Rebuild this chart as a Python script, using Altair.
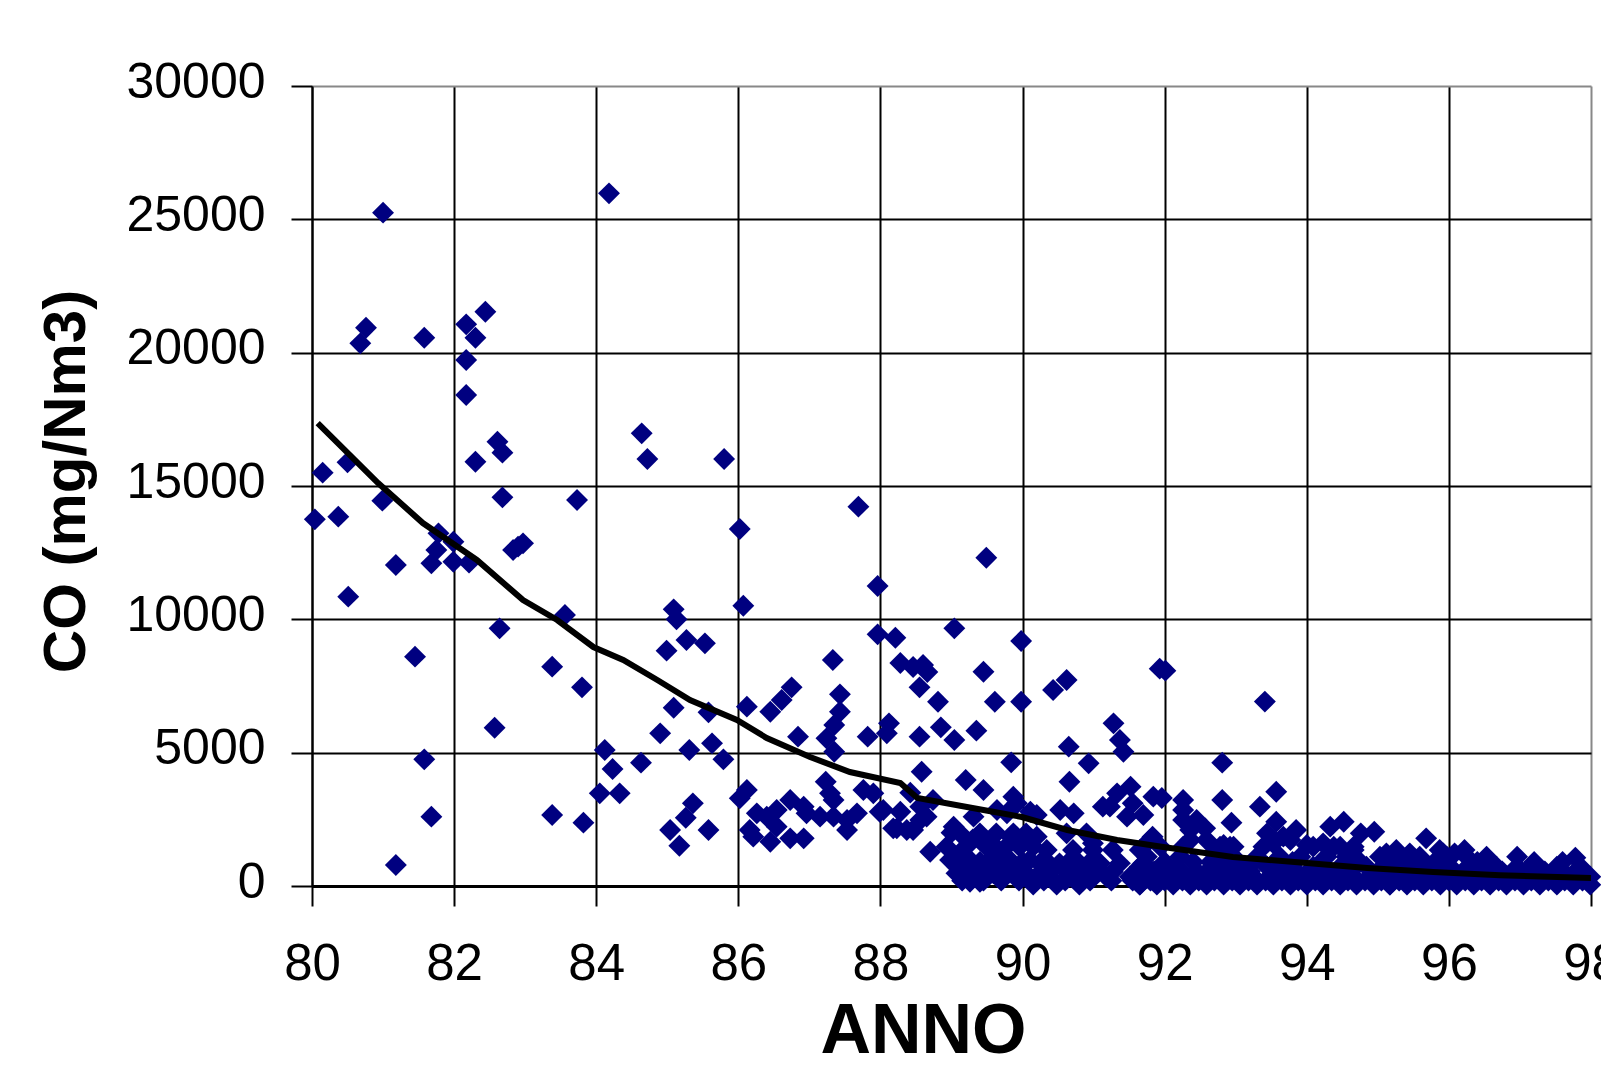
import altair as alt
import pandas as pd

# ---- scatter data: year (ANNO) and CO (mg/Nm3) ----
anno_early = [81.00, 84.18, 80.76, 80.68, 81.58, 82.44, 82.17, 82.30, 82.17, 82.17,
              84.64, 84.72, 85.80, 82.61, 82.68, 82.30, 80.50, 80.15, 80.99, 80.04,
              80.37, 82.68, 83.73, 86.02, 81.78, 81.99, 81.75, 81.68, 81.99, 82.21,
              81.18, 82.97, 82.83, 82.90, 80.51, 82.64, 83.56, 85.09, 85.13, 85.27,
              85.53, 86.07, 84.99, 81.45, 83.38, 83.80, 85.09, 85.58, 84.90, 82.57,
              84.12, 85.31, 85.63, 85.79, 81.58, 84.23, 84.63, 84.05, 84.33, 86.02,
              85.36, 85.26, 85.04, 85.58, 85.17, 81.68, 83.38, 83.82, 81.18]
co_early = [25250, 25975, 20937, 20350, 20562, 21537, 21062, 20562, 19725, 18412,
            16975, 16012, 16012, 16662, 16250, 15912, 15887, 15500, 14450, 13750,
            13850, 14575, 14475, 13387, 13225, 12912, 12600, 12100, 12162, 12125,
            12037, 12850, 12600, 12725, 10850, 9662, 10162, 10375, 10000, 9225,
            9100, 10512, 8825, 8600, 8225, 7450, 6687, 6512, 5725, 5937,
            5100, 5100, 5350, 4750, 4750, 4387, 4625, 3475, 3475, 3287,
            3100, 2562, 2100, 2100, 1512, 2600, 2662, 2375, 787]

anno_mid = [87.69, 89.49, 87.96, 87.96, 88.21, 89.04, 89.98, 87.33, 88.28, 88.46,
            88.60, 88.66, 89.45, 90.62, 90.43, 88.55, 86.75, 86.61, 86.45, 86.12,
            87.43, 87.43, 87.35, 87.24, 87.35, 86.84, 88.81, 89.61, 89.98, 88.12,
            88.09, 87.82, 88.55, 88.85, 89.04, 89.35, 91.28, 91.37, 91.42, 90.65,
            89.84, 90.93, 88.58, 89.20, 89.45, 90.66, 91.33, 91.52, 91.55, 91.23,
            91.47, 91.13, 86.12, 87.23, 87.29, 87.34, 87.76, 87.90, 88.42, 89.87,
            89.92, 86.26, 86.40, 86.54, 86.73, 86.92, 86.96, 86.16, 86.21, 86.54,
            86.45, 86.73, 86.92, 87.15, 87.34, 87.53, 87.67, 87.53, 87.99, 88.28,
            88.23, 88.37, 88.56, 88.65, 88.74, 89.03, 89.31, 88.70, 90.53, 90.72,
            90.20, 90.11, 88.04, 88.56, 88.18, 88.46, 89.64, 89.78, 89.87]
co_mid = [14225, 12312, 11250, 9437, 9312, 9662, 9187, 8475, 8362, 8212,
          8287, 8025, 8037, 7725, 7350, 7450, 7450, 6975, 6537, 6725,
          7187, 6537, 6037, 5537, 5037, 5600, 6912, 6912, 6912, 6100,
          5725, 5600, 5600, 5950, 5475, 5825, 6100, 5475, 5037, 5225,
          4637, 4600, 4287, 3975, 3600, 3912, 3475, 3725, 3100, 2975,
          2600, 2975, 3600, 3912, 3475, 3225, 3600, 3475, 3500, 3350,
          3100, 2725, 2600, 2850, 3225, 2975, 2725, 2100, 1850, 2225,
          1662, 1787, 1787, 2600, 2600, 2475, 2725, 2100, 2787, 2787,
          2162, 2100, 2975, 2600, 3225, 2225, 2600, 1287, 2850, 2725,
          2662, 2787, 2850, 2475, 2162, 2100, 2850, 2725, 2975]

anno_late = [91.93, 92.01, 93.41, 92.81, 91.84, 91.96, 92.26, 92.26, 92.81, 93.57,
             93.34, 91.70, 92.94, 92.26, 92.45, 92.57, 92.36, 93.57, 93.85, 93.44,
             93.67, 93.53, 93.77, 94.33, 94.52, 94.76, 94.95, 91.83, 92.36, 92.83,
             92.97, 92.73, 94.00, 94.23, 94.47, 94.66, 95.12, 95.26, 95.68, 97.78,
             95.87, 96.22, 96.08, 95.45, 95.92]
co_late = [8150, 8075, 6915, 4625, 3350, 3300, 3225, 2850, 3225, 3537,
           2975, 2662, 2375, 2475, 2475, 2162, 2100, 2412, 2100, 1975,
           1850, 1600, 1725, 2225, 2412, 1975, 2037, 1850, 1725, 1537,
           1475, 1350, 1537, 1600, 1475, 1350, 1225, 1350, 1787, 1062,
           1350, 1350, 1225, 1225, 1225]

anno_dense = [89.12, 89.40, 89.63, 89.87, 90.05, 90.62, 90.90,
              88.93, 89.21, 89.49, 89.77, 89.96, 90.15,
              90.34, 90.71, 90.99, 91.27, 91.65,
              88.98, 89.26, 89.54, 89.82, 90.10,
              90.24, 90.52, 90.80, 91.09, 91.37, 91.70,
              89.07, 89.30, 89.59, 89.87, 90.05, 90.24,
              90.34, 90.62, 90.90, 91.18, 91.51,
              89.26, 89.40, 90.15,
              90.15, 90.48, 90.80, 91.65,
              91.27, 90.99,
              91.65, 91.89, 92.12, 92.36, 92.59, 92.83, 93.06, 93.30, 93.53, 93.77, 94.00, 94.23, 94.47, 94.70, 94.94, 95.17,
              91.75, 92.03, 92.31, 92.73, 93.01, 93.25, 93.48, 93.72, 93.95, 94.19, 94.42, 94.66, 94.94, 95.22,
              91.65, 91.94, 92.17, 92.83, 93.11, 93.44, 93.67, 94.09, 94.47, 94.84, 95.13,
              91.75, 92.22, 92.73, 92.97, 93.30, 93.62, 93.91, 94.28, 94.56, 95.03, 95.27,
              91.94, 92.26, 92.78, 92.92, 93.39, 94.09, 94.38, 94.66,
              91.79, 92.59,
              95.17, 95.41, 95.64, 95.88, 96.11, 96.35, 96.58, 96.81, 97.05, 97.28, 97.52, 97.75, 97.99,
              95.27, 95.55, 95.83, 96.06, 96.30, 96.58, 96.86, 97.14, 97.42, 97.71, 97.99,
              95.17, 95.45, 95.73, 96.02, 96.39, 96.67, 96.96, 97.24, 97.52, 97.85,
              95.31, 95.59, 95.97, 96.25, 96.53, 96.96]
co_dense = [1975, 1975, 1975, 1975, 1975, 1975, 1975,
            1475, 1475, 1475, 1475, 1475, 1475,
            1350, 1350, 1350, 1350, 1350,
            975, 975, 975, 975, 975,
            850, 850, 850, 850, 850, 850,
            475, 475, 475, 475, 475, 475,
            350, 350, 350, 350, 350,
            162, 162, 162,
            50, 50, 50, 50,
            537, 1600,
            50, 50, 50, 50, 50, 50, 50, 50, 50, 50, 50, 50, 50, 50, 50, 50,
            350, 350, 350, 350, 350, 350, 350, 350, 350, 350, 350, 350, 350, 350,
            725, 725, 725, 725, 725, 725, 725, 725, 725, 725, 725,
            1100, 1100, 1100, 1100, 1100, 1100, 1100, 1100, 1100, 1100, 1100,
            1475, 1475, 1475, 1475, 1475, 1475, 1475, 1475,
            1725, 1725,
            50, 50, 50, 50, 50, 50, 50, 50, 50, 50, 50, 50, 50,
            350, 350, 350, 350, 350, 350, 350, 350, 350, 350, 350,
            725, 725, 725, 725, 725, 725, 725, 725, 725, 725,
            1100, 1100, 1100, 1100, 1100, 1100]

anno_band = [89.15, 89.45, 89.70, 89.95, 90.30, 90.60, 90.95, 91.25, 91.55, 91.80,
             92.00, 92.25, 92.48, 92.70, 92.95, 93.18, 93.42, 93.65, 93.88, 94.12,
             94.35, 94.58, 94.82, 95.05, 95.30, 95.52, 95.76, 96.00, 96.23, 96.46,
             96.70, 96.93, 97.16, 97.40, 97.63, 97.88,
             89.20, 89.50, 89.78, 90.40, 90.70, 91.00, 91.85, 92.10, 92.45, 92.60,
             92.90, 93.20, 93.55, 93.85, 94.30, 94.60, 95.00, 95.35, 95.60, 95.90,
             96.20, 96.50, 96.75, 97.10, 97.35, 97.60, 97.90,
             89.15, 89.40, 89.70, 90.00, 90.35, 90.65, 90.95, 92.00, 92.40, 92.65,
             93.00, 93.25, 93.80, 94.20, 94.75, 95.40, 95.80, 96.40, 97.20, 97.60,
             89.00, 89.30, 89.55, 89.85, 90.20, 89.10, 89.65]
co_band = [200, 200, 200, 200, 200, 200, 200, 200, 200, 200,
           200, 200, 200, 200, 200, 200, 200, 200, 200, 200,
           200, 200, 200, 200, 200, 200, 200, 200, 200, 200,
           200, 200, 200, 200, 200, 200,
           550, 550, 550, 550, 550, 550, 550, 550, 550, 550,
           550, 550, 550, 550, 550, 550, 550, 550, 550, 550,
           550, 550, 550, 550, 550, 550, 550,
           900, 900, 900, 900, 900, 900, 900, 900, 900, 900,
           900, 900, 900, 900, 900, 900, 900, 900, 900, 900,
           2000, 1750, 1650, 1800, 1850, 1200, 1250]

# ---- trend line ----
trend_anno = [80.08, 80.93, 81.56, 82.32, 82.97, 83.45, 83.96, 84.38, 84.86, 85.32,
              85.98, 86.40, 87.01, 87.57, 88.28, 88.52, 89.45, 89.99, 90.63, 91.33,
              91.98, 92.96, 94.00, 94.85, 95.78, 96.72, 98.00]
trend_co = [17360, 15112, 13612, 12225, 10725, 9975, 8962, 8475, 7725, 6975,
            6225, 5550, 4837, 4275, 3862, 3300, 2850, 2587, 2100, 1725,
            1462, 1087, 862, 675, 525, 400, 300]

x_ticks = [80, 82, 84, 86, 88, 90, 92, 94, 96, 98]
y_ticks = [0, 5000, 10000, 15000, 20000, 25000, 30000]

pts = pd.DataFrame({
    "ANNO": anno_early + anno_mid + anno_late + anno_dense + anno_band,
    "CO": co_early + co_mid + co_late + co_dense + co_band,
})
trend = pd.DataFrame({"ANNO": trend_anno, "CO": trend_co})

FONT = "Liberation Sans"

xscale = alt.Scale(domain=[80, 98], nice=False, zero=False)
yscale = alt.Scale(domain=[0, 30000], nice=False)

xaxis = alt.Axis(
    values=x_ticks, format="d", title="ANNO",
    grid=True, gridWidth=2,
    gridColor={"condition": {"test": "datum.value === 98", "value": "#888888"}, "value": "black"},
    domainColor="black", domainWidth=3,
    tickColor="black", tickWidth=2, tickSize=20,
    labelFont=FONT, labelFontSize=51, labelColor="black", labelPadding=33,
    labelFlush=False, labelOverlap=False,
    titleFont=FONT, titleFontSize=70, titleFontWeight="bold", titleColor="black",
    titleX=611, titleY=166, titleBaseline="alphabetic", titleAlign="center",
)
yaxis = alt.Axis(
    values=y_ticks, format="d", title="CO (mg/Nm3)",
    grid=True, gridWidth=2,
    gridColor={"condition": {"test": "datum.value === 30000", "value": "#888888"}, "value": "black"},
    domainColor="black", domainWidth=2,
    tickColor="black", tickWidth=2, tickSize=21,
    labelFont=FONT, labelFontSize=50, labelColor="black", labelPadding=26,
    labelOffset=-4, labelFlush=False, labelOverlap=False,
    titleFont=FONT, titleFontSize=60, titleFontWeight="bold", titleColor="black",
    titleAngle=270, titleX=-228, titleY=395, titleBaseline="alphabetic", titleAlign="center",
)

points = alt.Chart(pts).mark_point(
    shape="diamond", filled=True, size=480, color="#000080", opacity=1
).encode(
    x=alt.X("ANNO:Q", scale=xscale, axis=xaxis),
    y=alt.Y("CO:Q", scale=yscale, axis=yaxis),
)

line = alt.Chart(trend).mark_line(color="black", strokeWidth=6).encode(
    x=alt.X("ANNO:Q", scale=xscale),
    y=alt.Y("CO:Q", scale=yscale),
)

chart = alt.layer(points, line).properties(
    width=1279, height=800,
    padding={"left": 304, "top": 78, "right": 10, "bottom": 181},
    autosize=alt.AutoSizeParams(type="none"),
    background="white",
).configure_view(strokeWidth=0)

chart.save("out.html", embed_options={"renderer": "svg", "actions": False})
